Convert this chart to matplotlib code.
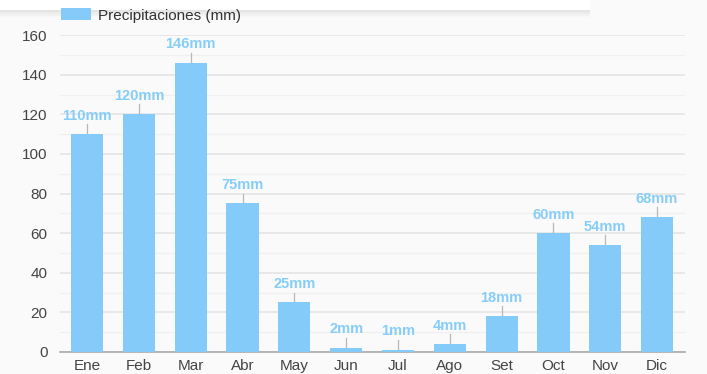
import matplotlib
matplotlib.use("Agg")
import matplotlib.pyplot as plt
import numpy as np

# monthly rainfall
meses = ['Ene', 'Feb', 'Mar', 'Abr', 'May', 'Jun', 'Jul', 'Ago', 'Set', 'Oct', 'Nov', 'Dic']
precip = [110, 120, 146, 75, 25, 2, 1, 4, 18, 60, 54, 68]

plt.rcParams['font.family'] = ['Liberation Sans', 'DejaVu Sans']

bar_color = '#84cbf9'
label_color = '#86cdfa'
bg = '#f9faf9'

fig = plt.figure(figsize=(7.07, 3.74), dpi=100, facecolor=bg)
ax = fig.add_axes([0.085, 0.059, 0.884, 0.847], facecolor=bg)

x = np.arange(len(meses))
ax.bar(x, precip, width=0.62, color=bar_color, zorder=3, label='Precipitaciones (mm)')

# value labels with a short leader line
for xi, v in zip(x, precip):
    ax.plot([xi, xi], [v, v + 5], color='#b8b8b8', lw=0.9, zorder=2)
    ax.text(xi, v + 5.8, f'{v}mm', ha='center', va='bottom', color=label_color,
            fontsize=10.5, fontweight='bold', zorder=4)

ax.set_xlim(-0.52, 11.54)
ax.set_ylim(0, 160)
ax.set_yticks(np.arange(0, 161, 20))
ax.set_yticks(np.arange(10, 160, 20), minor=True)
ax.set_xticks(x)
ax.set_xticklabels(meses)
ax.grid(axis='y', which='major', color='#e4e5e4', lw=1.2, zorder=0)
ax.grid(axis='y', which='minor', color='#eff0ef', lw=1.0, zorder=0)
for s in ['top', 'right', 'left']:
    ax.spines[s].set_visible(False)
ax.spines['bottom'].set_color('#aaaaaa')
ax.spines['bottom'].set_linewidth(1.2)
ax.tick_params(axis='both', which='both', length=0, labelsize=11, colors='#444444')
ax.tick_params(axis='y', pad=9)
ax.tick_params(axis='x', pad=5)

# legend
leg = ax.legend(loc='upper left', bbox_to_anchor=(0.002, 1.085), frameon=False,
                fontsize=11, handlelength=1.95, handleheight=0.85, handletextpad=0.45,
                borderaxespad=0, borderpad=0)
for t in leg.get_texts():
    t.set_color('#333333')

# white strip with soft shadow along the top edge
for i, a in enumerate(np.linspace(0.18, 0.0, 8)):
    fig.patches.append(plt.Rectangle((0, 1 - 10/374 - (i + 1)/374), 590/707, 1/374,
                                     transform=fig.transFigure, color='#000000',
                                     alpha=a * 0.5, lw=0, zorder=-2))
fig.patches.append(plt.Rectangle((0, 1 - 10/374), 590/707, 10/374,
                                 transform=fig.transFigure, color='white', lw=0,
                                 zorder=-1))

fig.savefig('out.png', dpi=100, facecolor=bg)
